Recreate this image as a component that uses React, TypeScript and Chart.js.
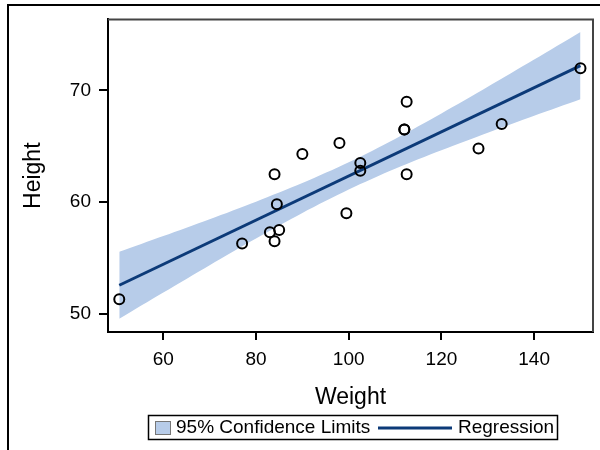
import React, { useEffect, useRef } from "react";
import { Chart, registerables } from "chart.js";

Chart.register(...registerables);

const weights = [112.5, 84.0, 98.0, 102.5, 102.5, 83.0, 84.5, 112.5, 84.0, 99.5, 50.5, 90.0, 77.0, 112.0, 150.0, 128.0, 133.0, 85.0, 112.0];
const heights = [69.0, 56.5, 65.3, 62.8, 63.5, 57.3, 59.8, 62.5, 62.5, 59.0, 51.3, 64.3, 56.3, 66.5, 72.0, 64.8, 67.0, 57.5, 66.5];

const fitX = [50.5, 150];
const fitY = [52.55, 72.23];

const bandX = [50.5, 60, 70, 80, 90, 100, 110, 120, 130, 140, 150];
const bandUpper = [55.55, 56.96, 58.47, 60.04, 61.7, 63.56, 65.66, 67.94, 70.33, 72.77, 75.25];
const bandLower = [49.55, 51.9, 54.35, 56.74, 59.02, 61.12, 62.98, 64.64, 66.21, 67.73, 69.21];

const xTicks = [60, 80, 100, 120, 140];
const yTicks = [50, 60, 70];

const xTitle = "Weight";
const yTitle = "Height";
const bandLabel = "95% Confidence Limits";
const lineLabel = "Regression";

const BAND = "#b7cce9";
const NAVY = "#0c3a78";
const FONT = "'Liberation Sans', Arial, sans-serif";

const decor = {
  id: "decor",
  beforeDraw(chart: any) {
    const { ctx, width, height } = chart;
    ctx.save();
    ctx.fillStyle = "#fff";
    ctx.fillRect(0, 0, width, height);
    ctx.restore();
  },
  afterDraw(chart: any) {
    const { ctx, chartArea } = chart;
    ctx.save();
    // outer border
    ctx.strokeStyle = "#000";
    ctx.lineWidth = 2;
    ctx.beginPath();
    ctx.moveTo(8, 452);
    ctx.lineTo(8, 5);
    ctx.lineTo(602, 5);
    ctx.stroke();
    // frame top & right
    ctx.strokeStyle = "#444";
    ctx.lineWidth = 2;
    ctx.beginPath();
    ctx.moveTo(chartArea.left, chartArea.top);
    ctx.lineTo(chartArea.right, chartArea.top);
    ctx.lineTo(chartArea.right, chartArea.bottom);
    ctx.stroke();

    // legend
    const bx = 148, by = 415, bw = 409, bh = 24;
    ctx.fillStyle = "#fff";
    ctx.fillRect(bx, by, bw, bh);
    ctx.strokeStyle = "#000";
    ctx.lineWidth = 1.5;
    ctx.strokeRect(bx + 0.5, by + 0.5, bw, bh);
    const cy = by + bh / 2 + 1;
    ctx.fillStyle = BAND;
    ctx.fillRect(155, cy - 7, 16, 14);
    ctx.strokeStyle = "#777";
    ctx.lineWidth = 1;
    ctx.strokeRect(155.5, cy - 6.5, 15, 13);
    ctx.fillStyle = "#000";
    ctx.font = `19px ${FONT}`;
    ctx.textBaseline = "middle";
    ctx.textAlign = "left";
    ctx.fillText(bandLabel, 176, cy);
    ctx.strokeStyle = NAVY;
    ctx.lineWidth = 3;
    ctx.beginPath();
    ctx.moveTo(378, cy);
    ctx.lineTo(452, cy);
    ctx.stroke();
    ctx.fillText(lineLabel, 458, cy);
    ctx.restore();
  },
};

export default function App() {
  const ref = useRef<HTMLCanvasElement>(null);
  useEffect(() => {
    if (!ref.current) return;
    const chart = new Chart(ref.current, {
      type: "scatter",
      data: {
        datasets: [
          {
            label: "Points",
            data: weights.map((w, i) => ({ x: w, y: heights[i] })),
            pointRadius: 5,
            pointBorderWidth: 2,
            pointBorderColor: "#000",
            pointBackgroundColor: "rgba(0,0,0,0)",
            showLine: false,
          },
          {
            label: lineLabel,
            data: fitX.map((x, i) => ({ x, y: fitY[i] })),
            showLine: true,
            borderColor: NAVY,
            borderWidth: 3,
            pointRadius: 0,
            fill: false,
          },
          {
            label: "Upper",
            data: bandX.map((x, i) => ({ x, y: bandUpper[i] })),
            showLine: true,
            borderWidth: 0,
            borderColor: "rgba(0,0,0,0)",
            backgroundColor: BAND,
            pointRadius: 0,
            fill: "+1",
            tension: 0.3,
          },
          {
            label: "Lower",
            data: bandX.map((x, i) => ({ x, y: bandLower[i] })),
            showLine: true,
            borderWidth: 0,
            borderColor: "rgba(0,0,0,0)",
            pointRadius: 0,
            fill: false,
            tension: 0.3,
          },
        ],
      },
      options: {
        animation: false,
        responsive: false,
        events: [],
        layout: { padding: { top: 17, right: 3, left: 0, bottom: 0 } },
        plugins: { legend: { display: false }, tooltip: { enabled: false } },
        scales: {
          x: {
            type: "linear",
            min: 48.07,
            max: 152.7,
            afterFit: (s: any) => {
              s.height = 118;
            },
            afterBuildTicks: (s: any) => {
              s.ticks = xTicks.map((v) => ({ value: v }));
            },
            ticks: {
              font: { size: 19, family: FONT },
              color: "#000",
              padding: 8,
              maxRotation: 0,
            },
            grid: { drawOnChartArea: false, drawTicks: true, tickLength: 8, color: "#000", lineWidth: 2 },
            border: { display: true, color: "#000", width: 2 },
            title: {
              display: true,
              text: xTitle,
              color: "#000",
              font: { size: 23, family: FONT },
              padding: { top: 0, bottom: 39 },
            },
          },
          y: {
            type: "linear",
            min: 48.36,
            max: 76.37,
            afterFit: (s: any) => {
              s.width = 108;
            },
            afterBuildTicks: (s: any) => {
              s.ticks = yTicks.map((v) => ({ value: v }));
            },
            ticks: {
              font: { size: 19, family: FONT },
              color: "#000",
              padding: 8,
            },
            grid: { drawOnChartArea: false, drawTicks: true, tickLength: 9, color: "#000", lineWidth: 2 },
            border: { display: true, color: "#000", width: 2 },
            title: {
              display: true,
              text: yTitle,
              color: "#000",
              font: { size: 23, family: FONT },
              padding: { top: 20, bottom: 0 },
            },
          },
        },
      },
      plugins: [decor],
    });
    return () => chart.destroy();
  }, []);
  return (
    <div style={{ position: "absolute", left: 0, top: 0, width: 600, height: 450 }}>
      <canvas ref={ref} width={600} height={450} />
    </div>
  );
}
